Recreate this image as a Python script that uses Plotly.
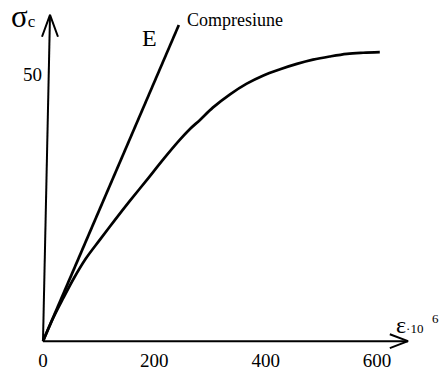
import plotly.graph_objects as go

# Stress-strain curve in compression (strain x 10^6, stress)
strain = [0, 18, 36, 56, 77, 102, 129, 156, 187, 216, 246, 264, 282, 305,
          336, 366, 395, 426, 456, 485, 515, 546, 575, 605]
stress = [0, 4.3, 8.0, 11.9, 15.5, 19.0, 22.7, 26.3, 30.3, 34.1, 37.8, 39.8,
          41.5, 43.8, 46.3, 48.3, 49.8, 51.0, 52.0, 52.8, 53.4, 53.9, 54.1, 54.2]

# Initial tangent modulus line E
e_strain = [0, 244]
e_stress = [0, 59.3]

x_ticks = [0, 200, 400, 600]
y_ticks = [50]

W, H = 442, 371
FONT = "Liberation Serif, Times New Roman, serif"
INK = "black"

fig = go.Figure()

# hand-drawn style axes with open arrowheads
axis_line = dict(color=INK, width=2)
fig.add_trace(go.Scatter(x=[0, 655.7], y=[0, 0], mode="lines",
                         line=axis_line, hoverinfo="skip"))
fig.add_trace(go.Scatter(x=[623, 655.7, 623], y=[1.3, 0, -1.3], mode="lines",
                         line=axis_line, hoverinfo="skip"))
fig.add_trace(go.Scatter(x=[0, 12.6], y=[0, 61.2], mode="lines",
                         line=axis_line, hoverinfo="skip"))
fig.add_trace(go.Scatter(x=[-1.8, 12.6, 26.9], y=[57.1, 61.2, 57.1], mode="lines",
                         line=axis_line, hoverinfo="skip"))

fig.add_trace(go.Scatter(x=e_strain, y=e_stress, mode="lines",
                         line=dict(color=INK, width=2.7), hoverinfo="skip"))
fig.add_trace(go.Scatter(x=strain, y=stress, mode="lines",
                         line=dict(color=INK, width=2.7, shape="spline", smoothing=1.0),
                         hoverinfo="skip"))

def px(x):
    return x / W

def py(y):
    return 1 - y / H

annotations = [
    dict(text="σ<span style='font-size:17px'>c</span>", x=px(9), y=py(17),
         xanchor="left", yanchor="middle", font=dict(size=31)),
    dict(text="E", x=192, y=56.8, xref="x", yref="y",
         xanchor="center", yanchor="middle", font=dict(size=24)),
    dict(text="Compresiune", x=px(185), y=py(20), xanchor="left", yanchor="middle",
         font=dict(size=18)),
    dict(text="ε<span style='font-size:13px'>·10</span>", x=px(394), y=py(327),
         xanchor="left", yanchor="middle", font=dict(size=24)),
    dict(text="6", x=px(430), y=py(320), xanchor="left", yanchor="middle",
         font=dict(size=13)),
]
for a in annotations:
    a.setdefault("xref", "paper")
    a.setdefault("yref", "paper")
    a["showarrow"] = False
    a["font"]["family"] = FONT
    a["font"]["color"] = INK

tick_font = dict(size=19, family=FONT, color=INK)

fig.update_layout(
    width=W, height=H,
    margin=dict(l=0, r=0, t=0, b=0),
    paper_bgcolor="white", plot_bgcolor="white",
    showlegend=False,
    font=dict(family=FONT, color=INK, size=19),
    annotations=annotations,
    xaxis=dict(range=[-77.24, 716.73], tickvals=x_ticks, showgrid=False,
               zeroline=False, showline=False, ticks="", anchor="free",
               position=28 / H, tickfont=tick_font, ticklabelstandoff=6),
    yaxis=dict(range=[-5.224, 63.99], tickvals=y_ticks, showgrid=False,
               zeroline=False, showline=False, ticks="", anchor="free",
               position=43 / W, tickfont=tick_font, ticklabelstandoff=1),
)

fig.write_html("out.html")
